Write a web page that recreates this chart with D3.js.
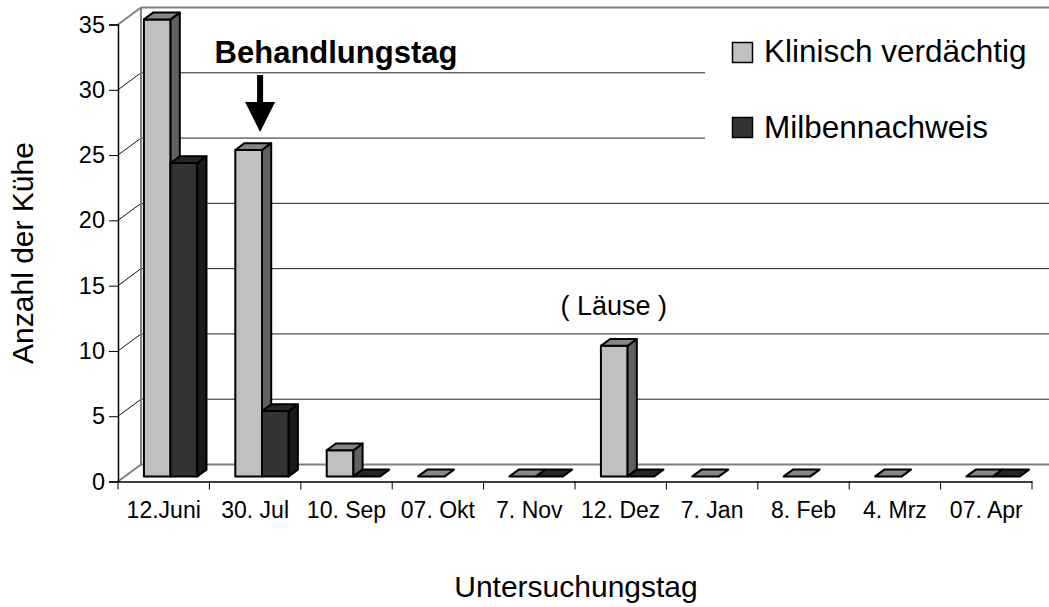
<!DOCTYPE html>
<html>
<head>
<meta charset="utf-8">
<script src="https://cdn.jsdelivr.net/npm/d3@7/dist/d3.min.js"></script>
<style>
  html, body { margin: 0; padding: 0; background: #fff; }
  svg { display: block; font-family: "Liberation Sans", Arial, sans-serif; }
</style>
</head>
<body>
<svg id="chart" width="1049" height="607"></svg>
<script>
// ---- data ----
const categories = ["12.Juni", "30. Jul", "10. Sep", "07. Okt", "7. Nov", "12. Dez", "7. Jan", "8. Feb", "4. Mrz", "07. Apr"];
const klinisch = [35, 25, 2, 0, 0, 10, 0, 0, 0, 0];
const milben = [24, 5, 0, null, 0, 0, null, null, null, 0];
const seriesNames = ["Klinisch verdächtig", "Milbennachweis"];
const yTicks = [0, 5, 10, 15, 20, 25, 30, 35];

// ---- layout ----
const W = 1049, H = 607;
const svg = d3.select("#chart");
const x = d3.scaleBand().domain(categories).range([118, 1032]).paddingInner(0).paddingOuter(0);
const y = d3.scaleLinear().domain([0, 35]).range([481.5, 24.5]);
const depth = { dx: 23, dy: -17 };          // floor depth offset
const fFront = 0.3, fBar = 0.4;             // bar position in depth
const off = { dx: depth.dx * fFront, dy: depth.dy * fFront };
const bd = { dx: depth.dx * fBar, dy: depth.dy * fBar };
const barW = x.bandwidth() * 0.292;

const colors = [
  { front: "#c0c0c0", top: "#858585", side: "#606060" },
  { front: "#333333", top: "#262626", side: "#1a1a1a" }
];

const x0 = x.range()[0], x1 = x.range()[1];

// ---- back wall gridlines & left wall lines ----
const grid = svg.append("g");
yTicks.forEach(t => {
  const yf = y(t);
  const edge = (t === 0 || t === 35);
  grid.append("line")
    .attr("x1", x0).attr("y1", yf)
    .attr("x2", x0 + depth.dx).attr("y2", yf + depth.dy)
    .attr("stroke", edge ? "#808080" : "#111")
    .attr("stroke-width", edge ? 2 : 1);
  grid.append("line")
    .attr("x1", x0 + depth.dx).attr("y1", yf + depth.dy)
    .attr("x2", W).attr("y2", yf + depth.dy)
    .attr("stroke", edge ? "#808080" : "#222")
    .attr("stroke-width", edge ? 2 : 1);
});
grid.append("line")
  .attr("x1", x0 + depth.dx).attr("y1", y(0) + depth.dy)
  .attr("x2", x0 + depth.dx).attr("y2", y(35) + depth.dy)
  .attr("stroke", "#808080").attr("stroke-width", 2);

// ---- legend background (covers gridlines) ----
svg.append("rect").attr("x", 705).attr("y", 18).attr("width", W - 705).attr("height", 145).attr("fill", "#fff");

// ---- axes ----
const yAxis = svg.append("g")
  .attr("transform", `translate(${x0},0)`)
  .call(d3.axisLeft(y).tickValues(yTicks).tickSize(9).tickPadding(4).tickFormat(d3.format("d")));
yAxis.select(".domain").attr("stroke", "#000").attr("stroke-width", 1.5);
yAxis.selectAll(".tick line").attr("stroke", "#000");
yAxis.selectAll(".tick text").attr("font-size", 23.5).attr("fill", "#000")
  .attr("font-family", "Liberation Sans, Arial, sans-serif");

const xAxis = svg.append("g")
  .attr("transform", `translate(0,${y(0)})`)
  .call(d3.axisBottom(x).tickSize(0).tickPadding(20));
xAxis.select(".domain").attr("stroke", "#000").attr("stroke-width", 1.5);
xAxis.selectAll(".tick text").attr("font-size", 23).attr("fill", "#000")
  .attr("font-family", "Liberation Sans, Arial, sans-serif");
const bounds = categories.map(c => x(c)).concat([x1]);
svg.append("g").selectAll("line").data(bounds).join("line")
  .attr("x1", d => d).attr("x2", d => d)
  .attr("y1", y(0)).attr("y2", y(0) + 8)
  .attr("stroke", "#000").attr("stroke-width", 1);

// ---- bars ----
const barsG = svg.append("g")
  .attr("stroke", "#000").attr("stroke-width", 2).attr("stroke-linejoin", "round");
const poly = pts => pts.map(p => p.join(",")).join(" ");

categories.forEach((c, i) => {
  const center = x(c) + x.bandwidth() / 2;
  [klinisch[i], milben[i]].forEach((v, s) => {
    if (v === null || v === undefined) return;
    const col = colors[s];
    const bx = center - barW + s * barW + off.dx;
    const yb = y(0) + off.dy;
    const yt = y(v) + off.dy;
    const g = barsG.append("g");
    if (v > 0) {
      g.append("rect").attr("x", bx).attr("y", yt).attr("width", barW).attr("height", yb - yt)
        .attr("fill", col.front);
      g.append("polygon").attr("points", poly([
        [bx + barW, yt], [bx + barW + bd.dx, yt + bd.dy], [bx + barW + bd.dx, yb + bd.dy], [bx + barW, yb]
      ])).attr("fill", col.side);
    }
    g.append("polygon").attr("points", poly([
      [bx, yt], [bx + bd.dx, yt + bd.dy], [bx + barW + bd.dx, yt + bd.dy], [bx + barW, yt]
    ])).attr("fill", col.top);
  });
});

// ---- annotations ----
svg.append("text").attr("x", 336).attr("y", 63).attr("text-anchor", "middle")
  .attr("font-size", 31).attr("font-weight", "bold").text("Behandlungstag");
const ax = x("30. Jul") + x.bandwidth() / 2 + 5;
svg.append("rect").attr("x", ax - 3).attr("y", 75).attr("width", 6).attr("height", 29).attr("fill", "#000");
svg.append("polygon").attr("points", poly([[ax - 15, 102], [ax + 15, 102], [ax, 132]])).attr("fill", "#000");

svg.append("text").attr("x", x("12. Dez") + x.bandwidth() / 2 - 7).attr("y", 315).attr("text-anchor", "middle")
  .attr("font-size", 27).text("( Läuse )");

// ---- legend ----
const leg = svg.append("g");
[[42, 62], [117, 138]].forEach(([ty, tb], s) => {
  leg.append("rect").attr("x", 732.5).attr("y", ty + 0.5).attr("width", 20).attr("height", 20)
    .attr("fill", colors[s].front).attr("stroke", "#000").attr("stroke-width", 1.5);
  leg.append("text").attr("x", 764).attr("y", tb).attr("font-size", 31.5).text(seriesNames[s]);
});

// ---- axis titles ----
svg.append("text").attr("x", 576).attr("y", 597).attr("text-anchor", "middle")
  .attr("font-size", 30).text("Untersuchungstag");
svg.append("text").attr("transform", "translate(33,253) rotate(-90)").attr("text-anchor", "middle")
  .attr("font-size", 30).text("Anzahl der Kühe");
</script>
</body>
</html>
